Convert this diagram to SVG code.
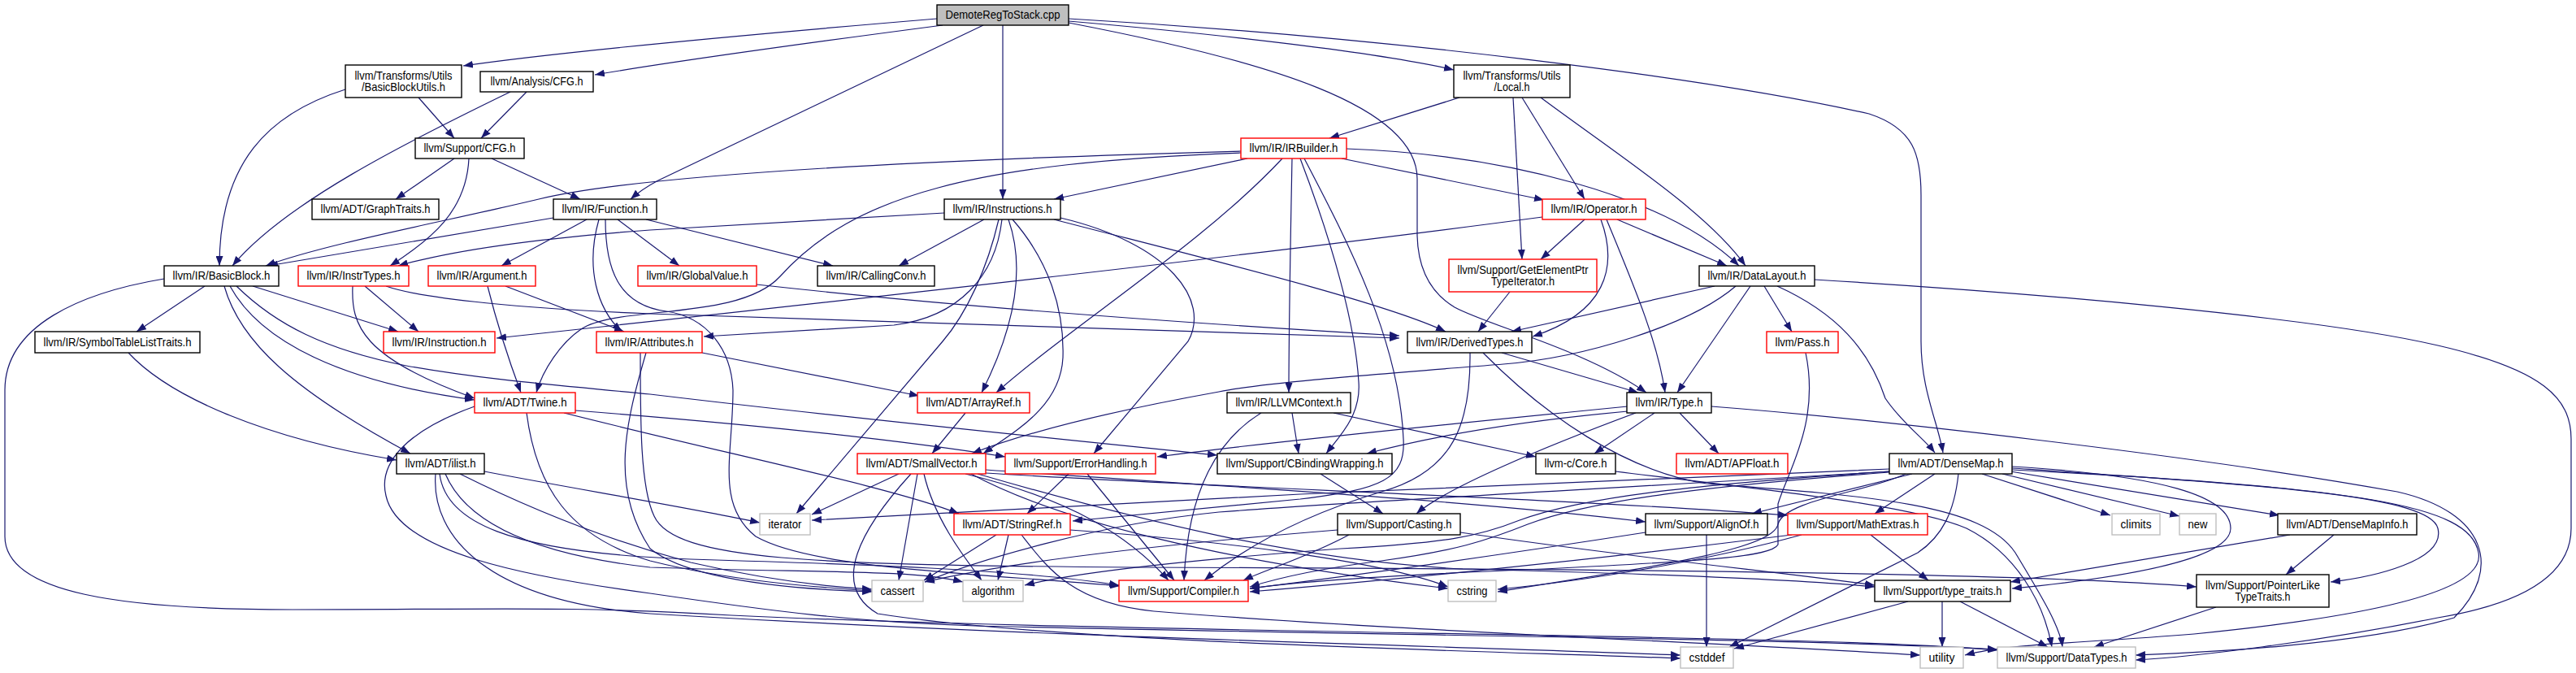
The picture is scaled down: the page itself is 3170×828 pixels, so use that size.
<svg xmlns="http://www.w3.org/2000/svg" width="3170" height="828" viewBox="0 0 3170 828">
<defs>
<marker id="arr" viewBox="0 0 12 9" refX="12" refY="4.5" markerWidth="12" markerHeight="9" markerUnits="userSpaceOnUse" orient="auto"><path d="M0,0 L12,4.5 L0,9 z" fill="#191970"/></marker>
<style>
rect{stroke-width:1.4}
.b{fill:#fff;stroke:#000}
.r{fill:#fff;stroke:#f00}
.g{fill:#fff;stroke:#bfbfbf}
.root{fill:#bfbfbf;stroke:#000}
text{font-family:"Liberation Sans Narrow","Liberation Sans",Arial,sans-serif;font-size:14.5px;text-anchor:middle;fill:#000}
#edges path{fill:none;stroke:#191970;stroke-width:1.2;marker-end:url(#arr)}
</style>
</defs>
<rect width="3170" height="828" fill="#fff"/>
<g id="edges">
<path d="M1153,23 C950,40 700,62 570,81"/>
<path d="M1160,31 C1000,52 850,72 732,92"/>
<path d="M1210,31 L810,222 C795,230 785,237 776,245"/>
<path d="M1234,31 L1234,245"/>
<path d="M1315,28 C1560,75 1744,130 1744,220 L1744,290 C1745,330 1760,360 1790,378 C1830,400 1950,430 2026,483"/>
<path d="M1315,26 C1500,42 1700,65 1789,86"/>
<path d="M1315,23 C1700,45 2100,95 2300,140 C2355,158 2364,190 2364,240 L2364,420 C2364,480 2385,520 2391,557"/>
<path d="M425,110 C330,140 270,200 270,327"/>
<path d="M515,120 L559,170"/>
<path d="M628,113 C500,175 350,250 286,327"/>
<path d="M648,113 L592,170"/>
<path d="M559,195 L487,245"/>
<path d="M577,195 C574,260 530,295 480,327"/>
<path d="M605,195 L714,245"/>
<path d="M1796,120 L1636,170"/>
<path d="M1862,120 L1873,319"/>
<path d="M1873,120 L1950,245"/>
<path d="M1896,120 C1990,190 2100,260 2148,327"/>
<path d="M1527,186 C1200,195 800,212 663,245 C550,272 400,300 327,327"/>
<path d="M1527,188 C1200,200 1050,240 960,340 C910,395 760,375 715,405 C690,422 668,455 660,483"/>
<path d="M1535,195 L1297,245"/>
<path d="M1578,195 C1480,300 1320,400 1226,483"/>
<path d="M1590,195 C1588,300 1586,400 1586,483"/>
<path d="M1651,195 L1900,246"/>
<path d="M1657,183 C1850,190 2050,240 2140,327"/>
<path d="M1600,195 C1640,300 1668,400 1672,470 C1675,510 1650,535 1632,558"/>
<path d="M1605,195 C1660,300 1722,420 1727,540 C1730,590 1700,602 1600,614 L1320,641"/>
<path d="M1162,262 L800,283 C650,294 550,310 490,327"/>
<path d="M1211,270 L1106,327"/>
<path d="M1229,270 C1215,330 1190,385 1160,420 L980,632"/>
<path d="M1233,270 C1225,340 1180,390 1100,400 L866,414"/>
<path d="M1241,270 C1262,330 1250,400 1208,483"/>
<path d="M1246,270 C1290,320 1310,380 1308,440 C1305,500 1250,530 1210,558"/>
<path d="M1305,268 C1440,300 1490,370 1462,420 L1346,558"/>
<path d="M1297,270 C1450,310 1700,370 1779,408"/>
<path d="M681,268 L330,327"/>
<path d="M722,270 L617,327"/>
<path d="M737,270 C720,330 735,380 765,408"/>
<path d="M760,270 L836,327"/>
<path d="M795,270 L1025,327"/>
<path d="M745,270 C745,330 760,375 820,383 C870,390 900,430 902,480 C902,560 880,620 930,660 C1000,700 1200,705 1378,721"/>
<path d="M252,352 L168,408"/>
<path d="M311,352 L490,408"/>
<path d="M276,352 C295,420 360,480 505,558"/>
<path d="M283,352 C320,420 420,470 584,492"/>
<path d="M291,352 C340,400 400,430 500,450 C600,468 700,475 800,485 C1050,515 1300,540 1498,560"/>
<path d="M202,343 C100,360 6,400 6,480 L6,660 C6,730 150,750 360,750 C600,750 700,745 900,757 C1400,780 2250,780 2458,800"/>
<path d="M449,352 L515,408"/>
<path d="M434,352 C432,400 445,440 584,490"/>
<path d="M475,352 C520,368 650,380 800,386 L1722,416"/>
<path d="M622,352 L768,408"/>
<path d="M600,352 C612,400 625,440 641,483"/>
<path d="M931,350 C1200,380 1500,400 1722,413"/>
<path d="M158,434 C210,490 330,540 488,566"/>
<path d="M864,434 L1131,487"/>
<path d="M795,434 C770,520 750,600 800,675 C850,715 980,725 1073,728"/>
<path d="M788,434 C788,520 788,600 805,635 C830,690 1000,695 1400,698 C2000,700 2500,705 2703,722"/>
<path d="M1848,434 L2016,483"/>
<path d="M1809,434 C1810,520 1790,580 1700,605 C1600,635 1530,675 1482,714"/>
<path d="M1825,434 C1900,510 2000,580 2100,595 C2300,610 2440,620 2480,680 C2510,730 2535,770 2538,796"/>
<path d="M2222,434 C2240,520 2200,580 2188,620 L2188,670 C2180,685 2100,690 1900,700 C1700,708 1600,715 1538,724"/>
<path d="M694,508 C900,560 1100,600 1180,632"/>
<path d="M708,505 C900,520 1100,540 1237,562"/>
<path d="M648,508 C660,600 700,660 800,690 C900,715 1000,722 1073,727"/>
<path d="M584,500 C500,530 465,570 475,610 C490,680 650,710 800,730 C950,752 1050,765 1200,770 C1700,782 2200,785 2458,799"/>
<path d="M1188,508 L1147,558"/>
<path d="M1552,508 C1500,540 1462,600 1457,714"/>
<path d="M1590,508 L1598,558"/>
<path d="M1641,508 L1890,562"/>
<path d="M2003,506 C1850,520 1750,540 1682,558"/>
<path d="M2003,500 C1800,520 1550,545 1424,562"/>
<path d="M2013,508 C1900,550 1780,600 1743,632"/>
<path d="M2036,508 L1962,558"/>
<path d="M2067,508 L2115,558"/>
<path d="M2106,500 C2300,515 2700,560 2950,605 C3060,630 3080,700 3020,760 C2900,795 2700,803 2628,806"/>
<path d="M2110,352 L1860,408"/>
<path d="M2136,352 C2080,400 1950,440 1850,448 C1700,460 1560,470 1500,482 C1400,500 1280,525 1196,558"/>
<path d="M2154,352 L2064,483"/>
<path d="M2171,352 L2205,408"/>
<path d="M2187,352 C2260,385 2300,430 2320,490 C2340,520 2368,540 2381,557"/>
<path d="M2233,344 C2500,360 2850,390 3000,425 C3130,455 3164,490 3164,540 L3164,650 C3164,700 3120,740 3000,760 C2850,790 2700,808 2628,812"/>
<path d="M596,580 C700,600 850,625 935,643"/>
<path d="M566,583 C650,625 750,665 850,692 C950,715 1020,722 1073,725"/>
<path d="M548,583 C570,635 640,680 800,698 C1000,705 1120,700 1185,716"/>
<path d="M541,583 C548,640 620,680 850,688 C1050,694 1250,700 1377,720"/>
<path d="M536,583 C530,660 600,740 800,755 C1300,785 1800,795 2068,806"/>
<path d="M1106,583 L999,633"/>
<path d="M1129,583 L1106,714"/>
<path d="M1137,583 C1150,640 1190,690 1208,714"/>
<path d="M1188,583 C1320,615 1390,660 1438,714"/>
<path d="M1121,583 C1060,650 1020,720 1080,755 C1300,790 1800,800 2068,810"/>
<path d="M1213,578 C1500,598 1800,615 2025,642"/>
<path d="M1213,582 C1500,600 1900,612 2200,634"/>
<path d="M1203,583 C1400,640 1600,690 1800,700 C2000,705 2200,712 2307,722"/>
<path d="M1195,583 C1300,640 1500,690 1782,724"/>
<path d="M1315,583 L1264,632"/>
<path d="M1338,583 L1445,714"/>
<path d="M1625,583 L1702,632"/>
<path d="M1988,580 C2150,600 2350,620 2420,650 C2480,680 2515,740 2525,796"/>
<path d="M2100,658 L2100,796"/>
<path d="M2025,655 C1800,690 1650,710 1538,724"/>
<path d="M2205,658 C1950,690 1700,715 1538,728"/>
<path d="M2217,658 C2100,690 1950,715 1843,725"/>
<path d="M2302,658 L2373,714"/>
<path d="M1797,655 C2000,685 2200,705 2307,720"/>
<path d="M1646,652 C1450,668 1250,690 1138,716"/>
<path d="M1660,658 C1610,685 1560,700 1530,714"/>
<path d="M1226,658 L1137,714"/>
<path d="M1241,658 L1228,714"/>
<path d="M1317,652 C1500,665 1700,690 1782,722"/>
<path d="M1257,658 C1290,700 1320,742 1420,752 C1700,775 2100,790 2363,806"/>
<path d="M2325,577 C2000,592 1700,603 1600,608 L999,640"/>
<path d="M2325,580 C2000,600 1700,615 1500,630 C1350,645 1200,690 1138,716"/>
<path d="M2325,580 C2100,595 1950,610 1870,640 C1820,660 1780,668 1650,675 C1450,690 1320,705 1261,720"/>
<path d="M2325,581 C2100,598 1960,615 1880,645 C1830,665 1790,678 1700,690 C1620,700 1570,712 1538,722"/>
<path d="M2345,583 C2300,605 2195,615 2188,645 C2182,675 2050,695 1843,728"/>
<path d="M2410,583 C2405,630 2390,660 2360,680 L2128,796"/>
<path d="M2353,583 L2156,632"/>
<path d="M2381,583 L2307,632"/>
<path d="M2476,574 C2660,585 2745,610 2745,650 C2745,690 2600,712 2476,724"/>
<path d="M2439,583 L2597,634"/>
<path d="M2464,583 L2682,635"/>
<path d="M2474,580 L2805,634"/>
<path d="M2476,576 C2800,598 2990,610 3000,650 C3010,690 2920,710 2868,716"/>
<path d="M2476,578 C2900,600 3040,620 3050,680 C3060,730 2900,760 2700,780 C2550,792 2470,792 2418,806"/>
<path d="M2872,658 L2813,707"/>
<path d="M2818,658 L2474,716"/>
<path d="M2348,740 L2134,798"/>
<path d="M2390,740 L2390,796"/>
<path d="M2412,740 L2520,796"/>
<path d="M2727,747 L2577,796"/>
<path d="M1898,267 C1500,320 900,385 611,416"/>
<path d="M1950,270 L1896,319"/>
<path d="M1990,270 L2125,327"/>
<path d="M1970,270 C1992,330 1975,385 1886,414"/>
<path d="M1977,270 C2010,350 2040,420 2049,483"/>
<path d="M1858,359 L1819,408"/>
</g>
<g id="nodes">
<g id="n_root"><rect class="root" x="1153" y="6" width="162" height="25"/><text x="1234" y="23" textLength="141" lengthAdjust="spacingAndGlyphs">DemoteRegToStack.cpp</text></g>
<g id="n_bbu"><rect class="b" x="425" y="80" width="143" height="40"/><text x="496.5" y="98" textLength="120" lengthAdjust="spacingAndGlyphs">llvm/Transforms/Utils</text><text x="496.5" y="111.5" textLength="103" lengthAdjust="spacingAndGlyphs">/BasicBlockUtils.h</text></g>
<g id="n_acfg"><rect class="b" x="591" y="88" width="139" height="25"/><text x="660.5" y="105" textLength="114" lengthAdjust="spacingAndGlyphs">llvm/Analysis/CFG.h</text></g>
<g id="n_local"><rect class="b" x="1789" y="80" width="143" height="40"/><text x="1860.5" y="98" textLength="120" lengthAdjust="spacingAndGlyphs">llvm/Transforms/Utils</text><text x="1860.5" y="111.5" textLength="44" lengthAdjust="spacingAndGlyphs">/Local.h</text></g>
<g id="n_scfg"><rect class="b" x="511" y="170" width="134" height="25"/><text x="578" y="187" textLength="113" lengthAdjust="spacingAndGlyphs">llvm/Support/CFG.h</text></g>
<g id="n_irb"><rect class="r" x="1527" y="170" width="130" height="25"/><text x="1592" y="187" textLength="109" lengthAdjust="spacingAndGlyphs">llvm/IR/IRBuilder.h</text></g>
<g id="n_gt"><rect class="b" x="384" y="245" width="156" height="25"/><text x="462" y="262" textLength="135" lengthAdjust="spacingAndGlyphs">llvm/ADT/GraphTraits.h</text></g>
<g id="n_func"><rect class="b" x="681" y="245" width="127" height="25"/><text x="744.5" y="262" textLength="106" lengthAdjust="spacingAndGlyphs">llvm/IR/Function.h</text></g>
<g id="n_instrs"><rect class="b" x="1162" y="245" width="143" height="25"/><text x="1233.5" y="262" textLength="122" lengthAdjust="spacingAndGlyphs">llvm/IR/Instructions.h</text></g>
<g id="n_op"><rect class="r" x="1898" y="245" width="127" height="25"/><text x="1961.5" y="262" textLength="106" lengthAdjust="spacingAndGlyphs">llvm/IR/Operator.h</text></g>
<g id="n_bb"><rect class="b" x="202" y="327" width="141" height="25"/><text x="272.5" y="344" textLength="120" lengthAdjust="spacingAndGlyphs">llvm/IR/BasicBlock.h</text></g>
<g id="n_it"><rect class="r" x="367" y="327" width="136" height="25"/><text x="435" y="344" textLength="115" lengthAdjust="spacingAndGlyphs">llvm/IR/InstrTypes.h</text></g>
<g id="n_arg"><rect class="r" x="527" y="327" width="132" height="25"/><text x="593" y="344" textLength="111" lengthAdjust="spacingAndGlyphs">llvm/IR/Argument.h</text></g>
<g id="n_gv"><rect class="r" x="785" y="327" width="146" height="25"/><text x="858" y="344" textLength="125" lengthAdjust="spacingAndGlyphs">llvm/IR/GlobalValue.h</text></g>
<g id="n_cc"><rect class="b" x="1006" y="327" width="144" height="25"/><text x="1078" y="344" textLength="123" lengthAdjust="spacingAndGlyphs">llvm/IR/CallingConv.h</text></g>
<g id="n_gep"><rect class="r" x="1783" y="319" width="182" height="40"/><text x="1874" y="337" textLength="161" lengthAdjust="spacingAndGlyphs">llvm/Support/GetElementPtr</text><text x="1874" y="350.5" textLength="78" lengthAdjust="spacingAndGlyphs">TypeIterator.h</text></g>
<g id="n_dl"><rect class="b" x="2091" y="327" width="142" height="25"/><text x="2162" y="344" textLength="121" lengthAdjust="spacingAndGlyphs">llvm/IR/DataLayout.h</text></g>
<g id="n_stlt"><rect class="b" x="43" y="408" width="203" height="26"/><text x="144.5" y="425.5" textLength="182" lengthAdjust="spacingAndGlyphs">llvm/IR/SymbolTableListTraits.h</text></g>
<g id="n_inst"><rect class="r" x="472" y="408" width="137" height="26"/><text x="540.5" y="425.5" textLength="116" lengthAdjust="spacingAndGlyphs">llvm/IR/Instruction.h</text></g>
<g id="n_attr"><rect class="r" x="734" y="408" width="130" height="26"/><text x="799" y="425.5" textLength="109" lengthAdjust="spacingAndGlyphs">llvm/IR/Attributes.h</text></g>
<g id="n_dt"><rect class="b" x="1732" y="408" width="153" height="26"/><text x="1808.5" y="425.5" textLength="132" lengthAdjust="spacingAndGlyphs">llvm/IR/DerivedTypes.h</text></g>
<g id="n_pass"><rect class="r" x="2174" y="408" width="88" height="26"/><text x="2218" y="425.5" textLength="67" lengthAdjust="spacingAndGlyphs">llvm/Pass.h</text></g>
<g id="n_twine"><rect class="r" x="584" y="483" width="124" height="25"/><text x="646" y="500" textLength="103" lengthAdjust="spacingAndGlyphs">llvm/ADT/Twine.h</text></g>
<g id="n_ar"><rect class="r" x="1129" y="483" width="138" height="25"/><text x="1198" y="500" textLength="117" lengthAdjust="spacingAndGlyphs">llvm/ADT/ArrayRef.h</text></g>
<g id="n_ctx"><rect class="b" x="1510" y="483" width="152" height="25"/><text x="1586" y="500" textLength="131" lengthAdjust="spacingAndGlyphs">llvm/IR/LLVMContext.h</text></g>
<g id="n_type"><rect class="b" x="2002" y="483" width="104" height="25"/><text x="2054" y="500" textLength="83" lengthAdjust="spacingAndGlyphs">llvm/IR/Type.h</text></g>
<g id="n_ilist"><rect class="b" x="488" y="558" width="108" height="25"/><text x="542" y="575" textLength="87" lengthAdjust="spacingAndGlyphs">llvm/ADT/ilist.h</text></g>
<g id="n_sv"><rect class="r" x="1055" y="558" width="158" height="25"/><text x="1134" y="575" textLength="137" lengthAdjust="spacingAndGlyphs">llvm/ADT/SmallVector.h</text></g>
<g id="n_eh"><rect class="r" x="1237" y="558" width="185" height="25"/><text x="1329.5" y="575" textLength="164" lengthAdjust="spacingAndGlyphs">llvm/Support/ErrorHandling.h</text></g>
<g id="n_cbw"><rect class="b" x="1498" y="558" width="215" height="25"/><text x="1605.5" y="575" textLength="194" lengthAdjust="spacingAndGlyphs">llvm/Support/CBindingWrapping.h</text></g>
<g id="n_core"><rect class="b" x="1890" y="558" width="98" height="25"/><text x="1939" y="575" textLength="77" lengthAdjust="spacingAndGlyphs">llvm-c/Core.h</text></g>
<g id="n_apf"><rect class="r" x="2063" y="558" width="137" height="25"/><text x="2131.5" y="575" textLength="116" lengthAdjust="spacingAndGlyphs">llvm/ADT/APFloat.h</text></g>
<g id="n_dm"><rect class="b" x="2325" y="558" width="151" height="25"/><text x="2400.5" y="575" textLength="130" lengthAdjust="spacingAndGlyphs">llvm/ADT/DenseMap.h</text></g>
<g id="n_iter"><rect class="g" x="935" y="632" width="62" height="26"/><text x="966" y="649.5" textLength="41" lengthAdjust="spacingAndGlyphs">iterator</text></g>
<g id="n_sr"><rect class="r" x="1174" y="632" width="143" height="26"/><text x="1245.5" y="649.5" textLength="122" lengthAdjust="spacingAndGlyphs">llvm/ADT/StringRef.h</text></g>
<g id="n_cast"><rect class="b" x="1646" y="632" width="151" height="26"/><text x="1721.5" y="649.5" textLength="130" lengthAdjust="spacingAndGlyphs">llvm/Support/Casting.h</text></g>
<g id="n_align"><rect class="b" x="2025" y="632" width="150" height="26"/><text x="2100" y="649.5" textLength="129" lengthAdjust="spacingAndGlyphs">llvm/Support/AlignOf.h</text></g>
<g id="n_math"><rect class="r" x="2200" y="632" width="172" height="26"/><text x="2286" y="649.5" textLength="151" lengthAdjust="spacingAndGlyphs">llvm/Support/MathExtras.h</text></g>
<g id="n_climits"><rect class="g" x="2599" y="632" width="59" height="26"/><text x="2628.5" y="649.5" textLength="38" lengthAdjust="spacingAndGlyphs">climits</text></g>
<g id="n_new"><rect class="g" x="2682" y="632" width="45" height="26"/><text x="2704.5" y="649.5" textLength="24" lengthAdjust="spacingAndGlyphs">new</text></g>
<g id="n_dmi"><rect class="b" x="2803" y="632" width="171" height="26"/><text x="2888.5" y="649.5" textLength="150" lengthAdjust="spacingAndGlyphs">llvm/ADT/DenseMapInfo.h</text></g>
<g id="n_cassert"><rect class="g" x="1073" y="714" width="63" height="26"/><text x="1104.5" y="731.5" textLength="42" lengthAdjust="spacingAndGlyphs">cassert</text></g>
<g id="n_algo"><rect class="g" x="1185" y="714" width="74" height="26"/><text x="1222" y="731.5" textLength="53" lengthAdjust="spacingAndGlyphs">algorithm</text></g>
<g id="n_comp"><rect class="r" x="1377" y="714" width="159" height="26"/><text x="1456.5" y="731.5" textLength="137" lengthAdjust="spacingAndGlyphs">llvm/Support/Compiler.h</text></g>
<g id="n_cstring"><rect class="g" x="1782" y="714" width="59" height="26"/><text x="1811.5" y="731.5" textLength="38" lengthAdjust="spacingAndGlyphs">cstring</text></g>
<g id="n_tt"><rect class="b" x="2307" y="714" width="167" height="26"/><text x="2390.5" y="731.5" textLength="146" lengthAdjust="spacingAndGlyphs">llvm/Support/type_traits.h</text></g>
<g id="n_plt"><rect class="b" x="2703" y="707" width="163" height="40"/><text x="2784.5" y="725" textLength="141" lengthAdjust="spacingAndGlyphs">llvm/Support/PointerLike</text><text x="2784.5" y="738.5" textLength="68" lengthAdjust="spacingAndGlyphs">TypeTraits.h</text></g>
<g id="n_cstddef"><rect class="g" x="2068" y="796" width="65" height="26"/><text x="2100.5" y="813.5" textLength="44" lengthAdjust="spacingAndGlyphs">cstddef</text></g>
<g id="n_util"><rect class="g" x="2363" y="796" width="53" height="26"/><text x="2389.5" y="813.5" textLength="32" lengthAdjust="spacingAndGlyphs">utility</text></g>
<g id="n_dtypes"><rect class="g" x="2458" y="796" width="170" height="26"/><text x="2543" y="813.5" textLength="149" lengthAdjust="spacingAndGlyphs">llvm/Support/DataTypes.h</text></g>
</g>
</svg>
